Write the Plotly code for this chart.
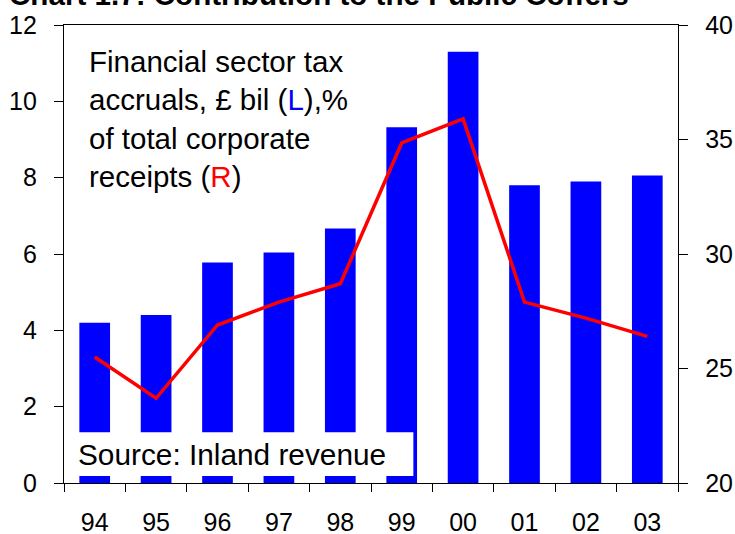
import plotly.graph_objects as go

years = ["94", "95", "96", "97", "98", "99", "00", "01", "02", "03"]
tax_accruals_bn = [4.2, 4.4, 5.78, 6.04, 6.67, 9.32, 11.3, 7.8, 7.9, 8.06]
share_of_receipts_pct = [25.5, 23.7, 26.9, 27.9, 28.7, 34.85, 35.9, 27.9, 27.2, 26.4]

FONT = "Liberation Sans, Arial, sans-serif"

fig = go.Figure()
fig.add_trace(go.Bar(x=years, y=tax_accruals_bn, marker=dict(color="#0000FF", line=dict(width=0)),
                     width=0.5, yaxis="y", showlegend=False, hoverinfo="skip"))
fig.add_trace(go.Scatter(x=years, y=share_of_receipts_pct, mode="lines",
                         line=dict(color="#FF0000", width=3.5), yaxis="y2", showlegend=False,
                         hoverinfo="skip"))

fig.update_layout(
    width=735, height=534,
    margin=dict(l=64, r=57, t=25, b=51, autoexpand=False),
    paper_bgcolor="white", plot_bgcolor="white",
    font=dict(family=FONT, color="black", size=25),
    bargap=0.5,
    xaxis=dict(type="category", showline=True, linecolor="black", linewidth=1.3, mirror=True,
               ticks="outside", ticklen=8, tickcolor="black", tickson="boundaries", automargin=False,
               ticklabelstandoff=17, showgrid=False, tickfont=dict(size=25)),
    yaxis=dict(range=[0, 12], dtick=2, showline=True, linecolor="black", linewidth=1.3,
               ticks="outside", ticklen=9, tickcolor="black", showgrid=False, zeroline=False,
               automargin=False, ticklabelstandoff=12, tickfont=dict(size=25)),
    yaxis2=dict(range=[20, 40], dtick=5, overlaying="y", side="right", showline=True,
                linecolor="black", linewidth=1.3, ticks="outside", ticklen=9, tickcolor="black",
                automargin=False, showgrid=False, zeroline=False, ticklabelstandoff=12,
                tickfont=dict(size=25)),
)

fig.add_shape(type="rect", xref="paper", yref="paper", x0=0.002, x1=0.569, y0=0.0153, y1=0.111,
              fillcolor="white", line=dict(width=0), layer="above")

fig.add_annotation(xref="paper", yref="paper", x=0.019, y=0.063, xanchor="left", yanchor="middle",
                   text="Source: Inland revenue", showarrow=False, font=dict(size=29.8, family=FONT))

fig.add_annotation(xref="paper", yref="paper", x=0.037, y=0.961, xanchor="left", yanchor="top",
                   align="left", showarrow=False, font=dict(size=29.5, family=FONT),
                   text=("Financial sector tax<br>accruals, £ bil (<span style='color:#0000FF'>L</span>),%"
                         "<br>of total corporate<br>receipts (<span style='color:#FF0000'>R</span>)"))

fig.add_annotation(xref="paper", yref="paper", x=-0.093, y=1.0662, xanchor="left", yanchor="middle",
                   text="<b>Chart 1.7: Contribution to the Public Coffers</b>", showarrow=False,
                   font=dict(size=29.6, family=FONT))

fig.write_html("out.html", config={"displayModeBar": False},
               post_script="document.body.style.margin='0';")
